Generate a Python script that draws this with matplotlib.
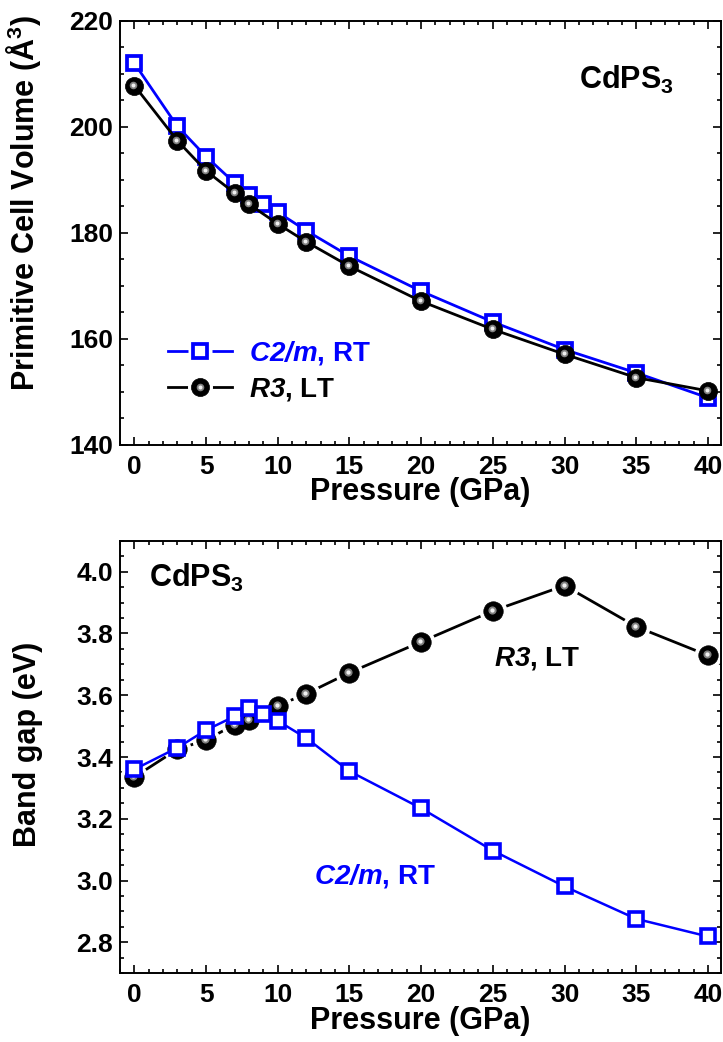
import matplotlib
matplotlib.use("Agg")
from matplotlib import pyplot as plt
from matplotlib.ticker import MultipleLocator, FormatStrFormatter
from matplotlib.transforms import ScaledTranslation

plt.rcParams['font.family'] = ['Liberation Sans', 'DejaVu Sans']
plt.rcParams['font.weight'] = 'bold'
plt.rcParams['mathtext.fontset'] = 'custom'
# everything inside $...$ is bold italic, \mathbf gives upright bold
plt.rcParams['mathtext.rm'] = 'Liberation Sans:italic:bold'
plt.rcParams['mathtext.it'] = 'Liberation Sans:italic:bold'
plt.rcParams['mathtext.bf'] = 'Liberation Sans:bold'

# pressure points (GPa)
p_c2m = [0, 3, 5, 7, 8, 9, 10, 12, 15, 20, 25, 30, 35, 40]
p_r3 = [0, 3, 5, 7, 8, 10, 12, 15, 20, 25, 30, 35, 40]

# primitive cell volume (A^3)
vol_c2m = [212.0, 200.1, 194.4, 189.4, 187.2, 185.4, 183.9, 180.4, 175.6,
           169.0, 163.2, 158.0, 153.6, 148.9]
vol_r3 = [207.8, 197.4, 191.7, 187.5, 185.4, 181.7, 178.3, 173.7, 167.1,
          161.8, 157.1, 152.7, 150.2]

# band gap (eV)
gap_c2m = [3.36, 3.43, 3.487, 3.532, 3.56, 3.538, 3.517, 3.461, 3.354,
           3.234, 3.097, 2.981, 2.876, 2.819]
gap_r3 = [3.335, 3.425, 3.455, 3.505, 3.52, 3.566, 3.605, 3.673, 3.773,
          3.873, 3.955, 3.822, 3.729]

lbl_c2m = r'$C2/m$, RT'
lbl_r3 = r'$R3$, LT'
blue = '#0000ff'

fig = plt.figure(figsize=(7.23, 10.42), dpi=100)
ax1 = fig.add_axes([0.166, 0.573, 0.831, 0.407])
ax2 = fig.add_axes([0.166, 0.066, 0.831, 0.415])


def spheres(ax, x, y, ms, z):
    '''black balls with a small grey highlight'''
    h = []
    h.append(ax.plot(x, y, 'o', ms=ms, mfc='black', mec='black', mew=0.5,
                     zorder=z)[0])
    off = ax.transData + ScaledTranslation(-0.7/72, 0.7/72, fig.dpi_scale_trans)
    h.append(ax.plot(x, y, 'o', ms=ms*0.42, mfc='#808080', mec='none',
                     transform=off, zorder=z+0.1)[0])
    h.append(ax.plot(x, y, 'o', ms=ms*0.22, mfc='#f0f0f0', mec='none',
                     transform=off, zorder=z+0.2)[0])
    return h


def style(ax, ylim, major, minor):
    ax.set_xlim(-1, 40.9)
    ax.set_ylim(*ylim)
    ax.xaxis.set_major_locator(MultipleLocator(5))
    ax.xaxis.set_minor_locator(MultipleLocator(1))
    ax.yaxis.set_major_locator(MultipleLocator(major))
    ax.yaxis.set_minor_locator(MultipleLocator(minor))
    ax.tick_params(which='both', direction='in', top=True, right=True,
                   width=1.2, labelsize=19)
    ax.tick_params(which='major', length=6)
    ax.tick_params(which='minor', length=3)
    ax.tick_params(axis='x', pad=7)
    ax.tick_params(axis='y', pad=5)
    for s in ax.spines.values():
        s.set_linewidth(1.4)
    ax.set_xlabel('Pressure (GPa)', fontsize=22, fontweight='bold', labelpad=-1)


# ---- top: volume ----
l_b, = ax1.plot(p_c2m, vol_c2m, '-s', color=blue, lw=2, ms=9.5, mew=2.7,
                mfc='white', mec=blue, zorder=2)
ax1.plot(p_r3, vol_r3, '-', color='black', lw=2, zorder=3)
hr = spheres(ax1, p_r3, vol_r3, 13, 4)
style(ax1, (140, 220), 20, 5)
ax1.set_ylabel(r'Primitive Cell Volume (Å$^\mathbf{3}$)', fontsize=22,
               fontweight='bold')
ax1.yaxis.set_label_coords(-0.128, 0.57)
ax1.text(31.0, 208.8, r'CdPS$_\mathbf{3}$', fontsize=22, fontweight='bold',
         ha='left', va='center')

# legend handles: line, white gap, symbol
line_b = plt.Line2D([], [], color=blue, lw=2)
line_k = plt.Line2D([], [], color='black', lw=2)
gap_s = plt.Line2D([], [], ls='none', marker='s', ms=17, mfc='white', mec='none')
gap_o = plt.Line2D([], [], ls='none', marker='o', ms=18, mfc='white', mec='none')
sq_b = plt.Line2D([], [], ls='none', marker='s', ms=9.5, mew=2.7,
                  mfc='white', mec=blue)
leg = ax1.legend([(line_b, gap_s, sq_b), (line_k, gap_o, hr[0], hr[1], hr[2])],
                 [lbl_c2m, lbl_r3],
                 loc='upper left', bbox_to_anchor=(0.08, 0.25), frameon=False,
                 prop={'size': 20, 'weight': 'bold'}, handlelength=2.3,
                 handletextpad=0.6, labelspacing=0.32, borderpad=0,
                 borderaxespad=0, numpoints=1)
leg.get_texts()[0].set_color(blue)

# ---- bottom: band gap ----
ax2.plot(p_r3, gap_r3, '-', color='black', lw=2, zorder=2)
ax2.plot(p_r3, gap_r3, 'o', ms=20, mfc='white', mec='none', zorder=2.5)
spheres(ax2, p_r3, gap_r3, 14, 3)
ax2.plot(p_c2m, gap_c2m, '-s', color=blue, lw=1.8, ms=9.5, mew=2.6,
         mfc='white', mec=blue, zorder=5)
style(ax2, (2.7, 4.1), 0.2, 0.05)
ax2.yaxis.set_major_formatter(FormatStrFormatter('%.1f'))
ax2.set_ylabel('Band gap (eV)', fontsize=22, fontweight='bold')
ax2.yaxis.set_label_coords(-0.128, 0.53)
ax2.text(1.03, 3.98, r'CdPS$_\mathbf{3}$', fontsize=22, fontweight='bold',
         ha='left', va='center')
ax2.text(28.1, 3.72, lbl_r3, fontsize=20, fontweight='bold',
         ha='center', va='center')
ax2.text(16.8, 3.014, lbl_c2m, fontsize=20, fontweight='bold', color=blue,
         ha='center', va='center')

fig.savefig('out.png', dpi=100)
